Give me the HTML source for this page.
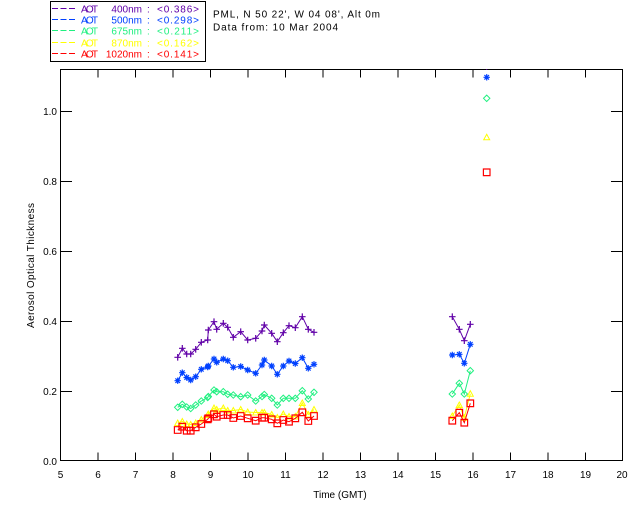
<!DOCTYPE html>
<html><head><meta charset="utf-8"><style>
html,body{margin:0;padding:0;background:#fff;}
svg{display:block;}
text{font-family:"Liberation Sans",sans-serif;font-size:10px;}
</style></head><body>
<svg width="640" height="512" viewBox="0 0 640 512" xmlns="http://www.w3.org/2000/svg">
<defs>
<marker id="mP" markerUnits="userSpaceOnUse" markerWidth="10" markerHeight="10" refX="5" refY="5" viewBox="0 0 10 10" overflow="visible"><path d="M1.7,5H8.3M5,1.7V8.3" stroke="#6000a8" stroke-width="1.2" fill="none"/></marker>
<marker id="mB" markerUnits="userSpaceOnUse" markerWidth="10" markerHeight="10" refX="5" refY="5" viewBox="0 0 10 10" overflow="visible"><path d="M1.8,5H8.2M5,1.8V8.2M2.7,2.7L7.3,7.3M2.7,7.3L7.3,2.7" stroke="#0040ff" stroke-width="1.2" fill="none"/></marker>
<marker id="mG" markerUnits="userSpaceOnUse" markerWidth="10" markerHeight="10" refX="5" refY="5" viewBox="0 0 10 10" overflow="visible"><path d="M5,1.8L8.2,5L5,8.2L1.8,5Z" stroke="#20f080" stroke-width="1" fill="none"/></marker>
<marker id="mY" markerUnits="userSpaceOnUse" markerWidth="10" markerHeight="10" refX="5" refY="5" viewBox="0 0 10 10" overflow="visible"><path d="M5,2L8,7.5L2,7.5Z" stroke="#ffff00" stroke-width="1" fill="none"/></marker>
<marker id="mR" markerUnits="userSpaceOnUse" markerWidth="10" markerHeight="10" refX="5" refY="5" viewBox="0 0 10 10" overflow="visible"><path d="M1.7,1.7H8.3V8.3H1.7Z" stroke="#ff0000" stroke-width="1.2" fill="none"/></marker>
<clipPath id="plot"><rect x="60" y="69" width="563" height="392"/></clipPath>
</defs>
<rect width="640" height="512" fill="#fff"/>

<!-- legend -->
<rect x="50.5" y="1.5" width="155" height="60" fill="none" stroke="#000" stroke-width="1"/>
<g stroke-width="1" stroke-dasharray="6,2.5">
<line x1="52" y1="8.5" x2="75" y2="8.5" stroke="#6000a8"/>
<line x1="52" y1="19.5" x2="75" y2="19.5" stroke="#0040ff"/>
<line x1="52" y1="30.5" x2="75" y2="30.5" stroke="#20f080"/>
<line x1="52" y1="42.5" x2="75" y2="42.5" stroke="#ffff00"/>
<line x1="52" y1="53.5" x2="75" y2="53.5" stroke="#ff0000"/>
</g>
<g fill="#6000a8"><text x="81" y="12.5" textLength="17">AOT</text><text x="142" y="12.5" text-anchor="end">400nm</text><text x="147" y="12.5">:</text><text x="157" y="12.5" textLength="42">&lt;0.386&gt;</text></g>
<g fill="#0040ff"><text x="81" y="23.5" textLength="17">AOT</text><text x="142" y="23.5" text-anchor="end">500nm</text><text x="147" y="23.5">:</text><text x="157" y="23.5" textLength="42">&lt;0.298&gt;</text></g>
<g fill="#20f080"><text x="81" y="34.5" textLength="17">AOT</text><text x="142" y="34.5" text-anchor="end">675nm</text><text x="147" y="34.5">:</text><text x="157" y="34.5" textLength="42">&lt;0.211&gt;</text></g>
<g fill="#ffff00"><text x="81" y="46.5" textLength="17">AOT</text><text x="142" y="46.5" text-anchor="end">870nm</text><text x="147" y="46.5">:</text><text x="157" y="46.5" textLength="42">&lt;0.162&gt;</text></g>
<g fill="#ff0000"><text x="81" y="57.5" textLength="17">AOT</text><text x="142" y="57.5" text-anchor="end">1020nm</text><text x="147" y="57.5">:</text><text x="157" y="57.5" textLength="42">&lt;0.141&gt;</text></g>

<text x="213" y="17.5" textLength="167" fill="#000">PML, N 50 22', W 04 08', Alt 0m</text>
<text x="213" y="30.7" textLength="125" fill="#000">Data from: 10 Mar 2004</text>

<!-- axes -->
<g stroke="#000" stroke-width="1" shape-rendering="crispEdges" fill="none">
<rect x="60.5" y="69.5" width="562" height="391"/>
<path d="M98,460.5V452.5M135.5,460.5V452.5M173,460.5V452.5M210.5,460.5V452.5M248,460.5V452.5M285.5,460.5V452.5M323,460.5V452.5M360.5,460.5V452.5M398,460.5V452.5M435.5,460.5V452.5M473,460.5V452.5M510.5,460.5V452.5M548,460.5V452.5M585.5,460.5V452.5"/>
<path d="M98,69.5V77.5M135.5,69.5V77.5M173,69.5V77.5M210.5,69.5V77.5M248,69.5V77.5M285.5,69.5V77.5M323,69.5V77.5M360.5,69.5V77.5M398,69.5V77.5M435.5,69.5V77.5M473,69.5V77.5M510.5,69.5V77.5M548,69.5V77.5M585.5,69.5V77.5"/>
<path d="M60.5,391.5H72M60.5,321.5H72M60.5,251.5H72M60.5,181.5H72M60.5,111.5H72"/>
<path d="M622.5,391.5H611M622.5,321.5H611M622.5,251.5H611M622.5,181.5H611M622.5,111.5H611"/>
</g>

<!-- tick labels -->
<g fill="#000" text-anchor="middle">
<text x="60.5" y="478">5</text><text x="98" y="478">6</text><text x="135.5" y="478">7</text><text x="173" y="478">8</text><text x="210.5" y="478">9</text><text x="248" y="478">10</text><text x="285.5" y="478">11</text><text x="323" y="478">12</text><text x="360.5" y="478">13</text><text x="398" y="478">14</text><text x="435.5" y="478">15</text><text x="473" y="478">16</text><text x="510.5" y="478">17</text><text x="548" y="478">18</text><text x="585.5" y="478">19</text><text x="622" y="478">20</text>
</g>
<g fill="#000" text-anchor="end">
<text x="57" y="465">0.0</text><text x="57" y="395">0.2</text><text x="57" y="325">0.4</text><text x="57" y="255">0.6</text><text x="57" y="185">0.8</text><text x="57" y="115">1.0</text>
</g>
<text x="340" y="498" text-anchor="middle" fill="#000">Time (GMT)</text>
<text transform="translate(34,265.5) rotate(-90)" text-anchor="middle" textLength="125" fill="#000">Aerosol Optical Thickness</text>

<!-- data -->
<g fill="none" stroke-width="1" clip-path="url(#plot)">
<polyline stroke="#6000a8" marker-start="url(#mP)" marker-mid="url(#mP)" marker-end="url(#mP)" points="177.7,357.3 182.3,348.3 186.7,354 190.7,354 195.7,349.3 201.3,342.3 207.7,340 208.3,330 214,321.7 216.7,329.3 223.3,323.3 227.7,327.3 233.3,337.3 240.7,331.7 247.7,340 255.7,338.3 262,331 264.3,325 271.7,333.3 277.3,341.7 283.3,332.7 289,325.7 295.3,327.7 302.3,316.7 308.3,329.3 314,332.3"/>
<polyline stroke="#6000a8" marker-start="url(#mP)" marker-mid="url(#mP)" marker-end="url(#mP)" points="452.3,316.7 459.3,329.3 464.3,340.7 470.3,324.3"/>

<polyline stroke="#0040ff" marker-start="url(#mB)" marker-mid="url(#mB)" marker-end="url(#mB)" points="177.7,380.7 182.3,372.7 186.7,377.5 190.7,380 195.7,376.7 201.3,369.3 207.7,367 208.3,366 214,359 216.7,362.3 223.3,359 227.7,360.7 233.3,367.3 240.7,366.5 247.7,370 255.7,373.3 262,365 264.3,360 271.7,366 277.3,374.3 283.3,366 289,361 295.3,363.5 302.3,357.7 308.3,368.3 314,364.3"/>
<polyline stroke="#0040ff" marker-start="url(#mB)" marker-mid="url(#mB)" marker-end="url(#mB)" points="452.3,355 459.3,354.3 464.3,363.3 470.3,344.3"/>

<polyline stroke="#20f080" marker-start="url(#mG)" marker-mid="url(#mG)" marker-end="url(#mG)" points="177.7,407.3 182.3,404.3 186.7,407 190.7,408.5 195.7,405 201.3,401 207.7,397.5 208.3,396.5 214,390 216.7,391.7 223.3,391.7 227.7,394.3 233.3,395 240.7,396.7 247.7,395 255.7,401 262,396.5 264.3,394.5 271.7,398.3 277.3,405 283.3,398.3 289,398.3 295.3,398.3 302.3,390.7 308.3,399 314,392.3"/>
<polyline stroke="#20f080" marker-start="url(#mG)" marker-mid="url(#mG)" marker-end="url(#mG)" points="452.3,394 459.3,383.3 464.3,394 470.3,370.7"/>

<polyline stroke="#ffff00" marker-start="url(#mY)" marker-mid="url(#mY)" marker-end="url(#mY)" points="177.7,423 182.3,421.5 186.7,424 190.7,424.5 195.7,423 201.3,419.5 207.7,415 208.3,414 214,408 216.7,409.5 223.3,408 227.7,410.5 233.3,410.5 240.7,409.5 247.7,412 255.7,412.5 262,412.5 264.3,412.5 271.7,414.5 277.3,417.5 283.3,414 289,416.5 295.3,416.5 302.3,403 308.3,414.5 314,409.5"/>
<polyline stroke="#ffff00" marker-start="url(#mY)" marker-mid="url(#mY)" marker-end="url(#mY)" points="452.3,416 459.3,405 464.3,417.7 470.3,393.7"/>

<polyline stroke="#ff0000" marker-start="url(#mR)" marker-mid="url(#mR)" marker-end="url(#mR)" points="177.7,430 182.3,426.7 186.7,430.7 190.7,430.7 195.7,427.3 201.3,424 207.7,419.3 208.3,418.3 214,414.3 216.7,416.7 223.3,415 227.7,415 233.3,418 240.7,416 247.7,418.3 255.7,420.7 262,417.7 264.3,417.7 271.7,419.3 277.3,423.3 283.3,420 289,421.7 295.3,418.3 302.3,412.3 308.3,421 314,416"/>
<polyline stroke="#ff0000" marker-start="url(#mR)" marker-mid="url(#mR)" marker-end="url(#mR)" points="452.3,420.7 459.3,412.7 464.3,422.7 470.3,403.3"/>

<!-- isolated points at ~16.4 h -->
<path d="M483.4,66.5H490M486.7,63.2V69.8" stroke="#6000a8" stroke-width="1.2"/>
<path d="M483.5,77.3H489.9M486.7,74.1V80.5M484.4,75L489,79.6M484.4,79.6L489,75" stroke="#0040ff" stroke-width="1.2"/>
<path d="M486.7,95.1L489.9,98.3L486.7,101.5L483.5,98.3Z" stroke="#20f080"/>
<path d="M486.7,134.3L489.7,139.8L483.7,139.8Z" stroke="#ffff00"/>
<path d="M483.4,169H490V175.6H483.4Z" stroke="#ff0000" stroke-width="1.2"/>
</g>
</svg>
</body></html>
